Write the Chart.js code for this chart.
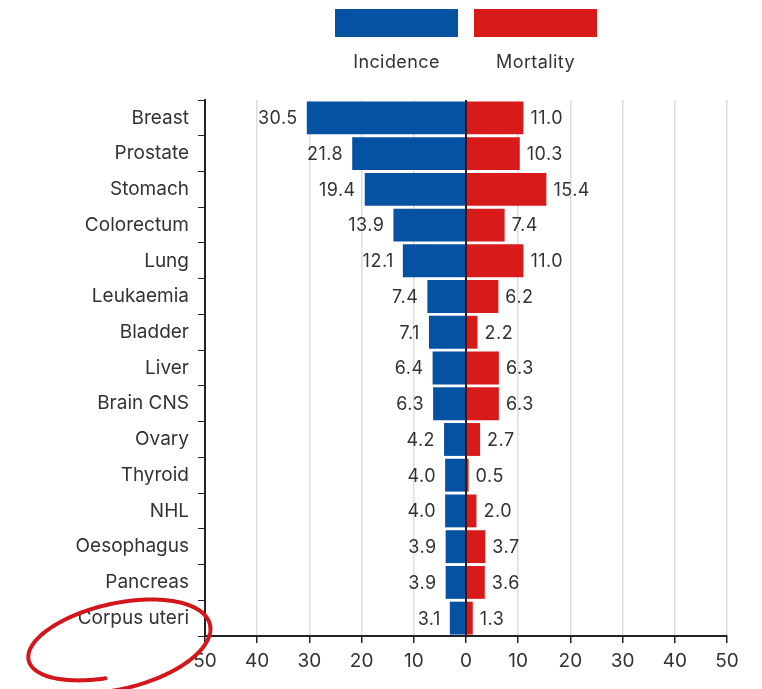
<!DOCTYPE html>
<html>
<head>
<meta charset="utf-8">
<script src="https://cdn.jsdelivr.net/npm/chart.js@4"></script>
<style>
  html, body { margin: 0; padding: 0; background: #fff; }
  #wrap { position: relative; width: 762px; height: 689px; }
  #legend { position: absolute; top: 9px; left: 335px; display: flex; gap: 16px; }
  .item { width: 123px; text-align: center; font-family: Inter, sans-serif; font-size: 18px; letter-spacing: 0.4px; color: #333; }
  .swatch { height: 28px; margin-bottom: 14px; }
</style>
</head>
<body>
<div id="wrap">
  <div id="legend"></div>
  <canvas id="chart" width="762" height="689"></canvas>
</div>
<script>
const sites = ['Breast', 'Prostate', 'Stomach', 'Colorectum', 'Lung', 'Leukaemia', 'Bladder', 'Liver',
  'Brain CNS', 'Ovary', 'Thyroid', 'NHL', 'Oesophagus', 'Pancreas', 'Corpus uteri'];
const incidence = [30.5, 21.8, 19.4, 13.9, 12.1, 7.4, 7.1, 6.4, 6.3, 4.2, 4.0, 4.0, 3.9, 3.9, 3.1];
const mortality = [11.0, 10.3, 15.4, 7.4, 11.0, 6.2, 2.2, 6.3, 6.3, 2.7, 0.5, 2.0, 3.7, 3.6, 1.3];
const xTicks = [-50, -40, -30, -20, -10, 0, 10, 20, 30, 40, 50];

const BLUE = '#0452a1';
const RED = '#d91a1a';
const FONT = 'Inter, sans-serif';

// value labels at the outer end of every bar
const barLabels = {
  id: 'barLabels',
  afterDatasetsDraw(chart) {
    const ctx = chart.ctx;
    ctx.save();
    ctx.font = '18px ' + FONT;
    ctx.letterSpacing = '0.5px';
    ctx.fillStyle = '#333';
    ctx.textBaseline = 'middle';
    chart.data.datasets.forEach((ds, i) => {
      chart.getDatasetMeta(i).data.forEach((bar, j) => {
        const v = Math.abs(ds.data[j]).toFixed(1);
        if (ds.data[j] < 0) {
          ctx.textAlign = 'right';
          ctx.fillText(v, bar.x - 9, bar.y + 1);
        } else {
          ctx.textAlign = 'left';
          ctx.fillText(v, bar.x + 7, bar.y + 1);
        }
      });
    });
    // centre line on top of the bars
    const x0 = chart.scales.x.getPixelForValue(0);
    ctx.strokeStyle = '#3b1515';
    ctx.lineWidth = 2;
    ctx.beginPath();
    ctx.moveTo(x0, chart.chartArea.top);
    ctx.lineTo(x0, chart.chartArea.bottom);
    ctx.stroke();
    ctx.restore();
  }
};

// hand-drawn red loop around the last category
const circleIt = {
  id: 'circleIt',
  afterDraw(chart) {
    const ctx = chart.ctx;
    const y = chart.scales.y.getPixelForValue(sites.length - 1);
    const cx = 116, cy = y + 25, rot = -0.2;
    ctx.save();
    ctx.strokeStyle = '#d3161b';
    ctx.lineWidth = 4;
    ctx.lineCap = 'round';
    ctx.beginPath();
    const a0 = 2.0, a1 = a0 - Math.PI * 2 - 0.25;
    let first = true;
    for (let a = a0; a >= a1; a -= 0.03) {
      const t = (a0 - a) / (a0 - a1);
      const rx = 100 - 14 * t, ry = 47 - 14 * t;
      const ex = rx * Math.cos(a), ey = ry * Math.sin(a);
      const px = cx + ex * Math.cos(rot) - ey * Math.sin(rot);
      const py = cy + ex * Math.sin(rot) + ey * Math.cos(rot);
      if (first) { ctx.moveTo(px, py); first = false; } else ctx.lineTo(px, py);
    }
    ctx.stroke();
    ctx.restore();
  }
};

const chart = new Chart(document.getElementById('chart'), {
  type: 'bar',
  data: {
    labels: sites,
    datasets: [
      { label: 'Incidence', data: incidence.map(v => -v), backgroundColor: BLUE },
      { label: 'Mortality', data: mortality, backgroundColor: RED }
    ]
  },
  options: {
    indexAxis: 'y',
    responsive: false,
    animation: false,
    barPercentage: 0.92,
    categoryPercentage: 1,
    layout: { padding: { top: 100, right: 35, left: 0, bottom: 0 } },
    plugins: { legend: { display: false }, tooltip: { enabled: false } },
    scales: {
      x: {
        stacked: true,
        min: -50,
        max: 50,
        afterBuildTicks: s => { s.ticks = xTicks.map(v => ({ value: v })); },
        afterFit: s => { s.height = 53; },
        border: { color: '#222', width: 2 },
        grid: { color: '#ddd', lineWidth: 1.5, tickColor: '#222', tickLength: 7, drawTicks: true },
        ticks: {
          color: '#333',
          font: { family: FONT, size: 19 },
          padding: 7,
          maxRotation: 0,
          callback: v => Math.abs(v)
        }
      },
      y: {
        stacked: true,
        afterFit: s => { s.width = 205; },
        border: { color: '#222', width: 2 },
        grid: { display: true, drawOnChartArea: false, tickColor: '#222', tickLength: 7 },
        ticks: { color: '#333', font: { family: FONT, size: 19 }, padding: 9 }
      }
    }
  },
  plugins: [barLabels, circleIt]
});

// legend: coloured blocks with names underneath
document.getElementById('legend').innerHTML = chart.data.datasets.map(ds =>
  `<div class="item"><div class="swatch" style="background:${ds.backgroundColor}"></div>${ds.label}</div>`
).join('');
</script>
</body>
</html>
